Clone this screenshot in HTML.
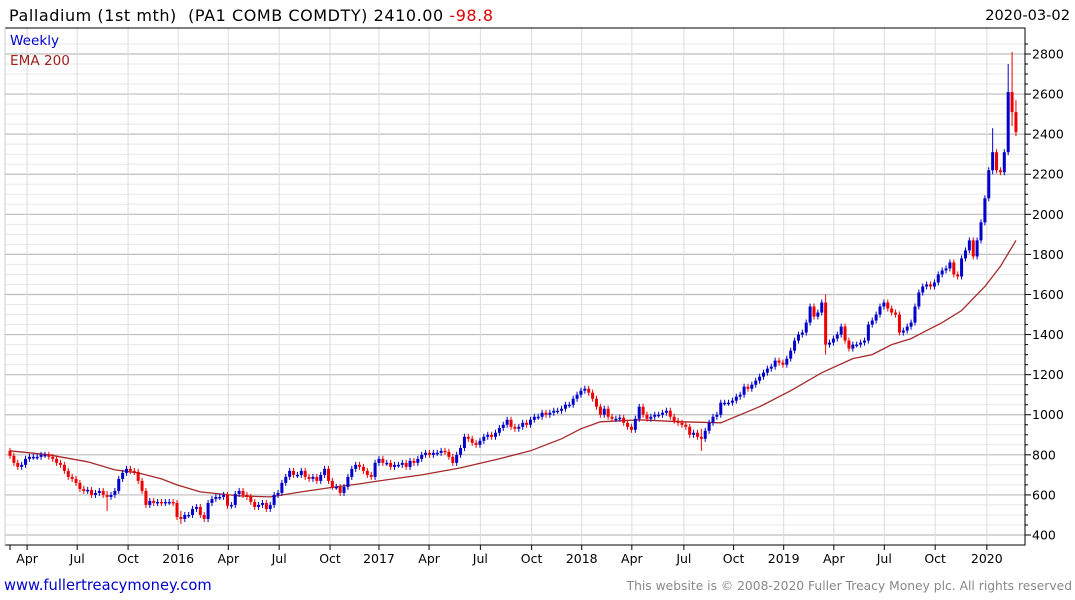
<!DOCTYPE html>
<html><head><meta charset="utf-8">
<style>
body{margin:0;background:#fff;font-family:"DejaVu Sans","Liberation Sans",sans-serif;}
#wrap{position:relative;width:1075px;height:600px;overflow:hidden;}
text{font-family:"DejaVu Sans","Liberation Sans",sans-serif;white-space:pre;}
</style></head>
<body>
<div id="wrap">
<svg id="chart" width="1075" height="600" xmlns="http://www.w3.org/2000/svg">
<g id="grid"></g>
<g id="ema"></g>
<g id="candles"></g>
<g id="axes"></g>
<text x="9" y="21" font-size="16" textLength="484" lengthAdjust="spacing" fill="#000">Palladium (1st mth)  (PA1 COMB COMDTY) 2410.00 <tspan fill="#e00000">-98.8</tspan></text>
<text x="1070" y="20" font-size="14.6" text-anchor="end" fill="#000">2020-03-02</text>
<text x="10" y="45" font-size="13.6" fill="#0000cc">Weekly</text>
<text x="10" y="65" font-size="13.6" fill="#a02020">EMA 200</text>
<text x="4" y="590" font-size="14.7" fill="#0000cc">www.fullertreacymoney.com</text>
<text x="1072" y="590" font-size="12.3" text-anchor="end" fill="#888">This website is © 2008-2020 Fuller Treacy Money plc. All rights reserved</text>
</svg>
</div>
<script>
const closes = [795,760,740,750,780,790,790,790,800,800,790,780,760,750,720,690,680,660,630,620,625,600,610,620,600,590,600,620,680,710,730,720,715,670,620,550,570,560,565,560,565,565,560,
490,480,500,500,530,540,500,480,560,580,590,590,600,546,550,605,620,600,590,565,540,550,560,530,550,600,610,660,690,720,700,700,720,690,680,690,670,700,730,670,640,640,610,640,690,730,750,740,720,700,690,760,780,
760,760,740,750,750,760,740,770,760,780,800,810,800,810,810,820,815,790,760,800,834,890,880,860,850,870,890,900,890,910,934,950,975,940,930,940,960,950,975,990,990,1010,1000,1010,1020,1020,1030,1050,1050,1080,1100,1120,1130,1110,1080,1040,1000,1030,990,980,980,985,960,940,925,980,1040,1000,980,990,1000,1000,1010,1020,990,970,960,950,940,900,910,890,880,920,960,990,1000,1060,1060,1060,1070,1090,1100,1140,1130,1150,1170,1190,1210,1230,1240,1270,1260,1250,1280,1320,1370,1400,1410,1460,1540,1490,1510,1560,1350,1360,1380,1400,1440,1370,1330,1350,1350,1360,1370,1450,1470,1500,1540,1560,1530,1510,1500,1410,1420,1440,1460,1540,1610,1640,1650,1640,1660,1700,1720,1730,1760,1700,1690,1780,1820,1870,1790,1870,1960,2080,2220,2310,2220,2210,2310,2610,2510,2410];
const firstOpen = 820;
const spikeWeeks = [25,44,178,210,253,257,258,259];
const spikeHighs = [620,520,930,1600,2430,2750,2810,2570];
const spikeLows  = [520,455,820,1300,2200,2330,2440,2390];
const emaWeeks = [0,10,20,27,33,39,43,49,59,67,75,82,90,95,106,116,126,134,142,147,152,162,173,183,193,201,209,217,222,227,232,236,240,245,251,255,259];
const emaValues = [820,800,765,725,710,680,650,615,595,590,615,635,655,670,700,735,780,820,880,930,965,975,965,960,1040,1120,1210,1280,1300,1350,1380,1420,1460,1520,1640,1740,1870];
const yTicks = [400,600,800,1000,1200,1400,1600,1800,2000,2200,2400,2600,2800];
const xTickLabels = ["Apr","Jul","Oct","2016","Apr","Jul","Oct","2017","Apr","Jul","Oct","2018","Apr","Jul","Oct","2019","Apr","Jul","Oct","2020"];
const xTickWeeks = [4.4,17.3,30.4,43.3,56.2,69.3,82.4,95.0,107.9,121.1,134.3,147.2,160.1,173.5,186.3,199.2,212.1,225.1,238.2,251.5];

const NS="http://www.w3.org/2000/svg";
const L=5,R=1025,T=28,B=545;
function y(v){return 535-(v-400)*0.20042;}
function x(i){return 10+i*3.884;}
function mk(tag,attrs,parent){const e=document.createElementNS(NS,tag);for(const k in attrs)e.setAttribute(k,attrs[k]);parent.appendChild(e);return e;}
const grid=document.getElementById('grid'),axes=document.getElementById('axes'),cg=document.getElementById('candles'),eg=document.getElementById('ema');
mk('rect',{x:L,y:T,width:R-L,height:B-T,fill:'#fff'},grid);
for(let v=400;v<=2850;v+=50){
  const major=v%200===0;
  const ln=mk('line',{x1:L,x2:R,y1:y(v),y2:y(v),stroke:major?'#bdbdbd':'#e8e8e8','stroke-width':major?1.2:1},grid);
  
  
  const tk=mk('line',{x1:R,x2:R+(major?6:3),y1:y(v),y2:y(v),stroke:'#000'},axes);
  
  
}
yTicks.forEach(v=>{
  const t=mk('text',{x:1032,y:y(v)+4.5,'font-size':12.5,fill:'#000'},axes);t.textContent=v;
  
  
});
xTickWeeks.forEach((w,k)=>{
  const xx=x(w);
  const g=mk('line',{x1:xx,x2:xx,y1:T,y2:B,stroke:'#dcdcdc'},grid);
  
  
  const tk=mk('line',{x1:xx,x2:xx,y1:B,y2:B+5,stroke:'#000'},axes);
  
  
  const t=mk('text',{x:xx,y:563,'font-size':12.5,'text-anchor':'middle',fill:'#000'},axes);t.textContent=xTickLabels[k];
  
  
});
const tk0=mk('line',{x1:x(0),x2:x(0),y1:B,y2:B+5,stroke:'#000'},axes);


const fr=mk('path',{d:`M${L},${T} H${R} V${B} H${L}`,fill:'none',stroke:'#000','stroke-width':1},axes);


mk('line',{x1:L,x2:L,y1:T,y2:B,stroke:'#ccc'},axes);
let d='';emaWeeks.forEach((w,k)=>{d+=(k?'L':'M')+x(w).toFixed(1)+','+y(emaValues[k]).toFixed(1);});
const ep=mk('path',{d:d,fill:'none',stroke:'#a52a2a','stroke-width':1.3},eg);


closes.forEach((c,i)=>{
  const o=i?closes[i-1]:firstOpen;
  const up=c>=o;const col=up?'#0000cc':'#ee0000';
  let hi=Math.max(o,c)+15,lo=Math.min(o,c)-15;
  const s=spikeWeeks.indexOf(i);if(s>=0){hi=Math.max(hi,spikeHighs[s]);lo=Math.min(lo,spikeLows[s]);}
  const xx=x(i);
  const w=mk('line',{x1:xx,x2:xx,y1:y(hi),y2:y(lo),stroke:col,'stroke-width':1},cg);
  
  
  const top=y(Math.max(o,c)),h=Math.max(1.5,y(Math.min(o,c))-top);
  const r=mk('rect',{x:xx-1.5,y:top,width:3,height:h,fill:col},cg);
  
  
});
</script>
</body></html>
